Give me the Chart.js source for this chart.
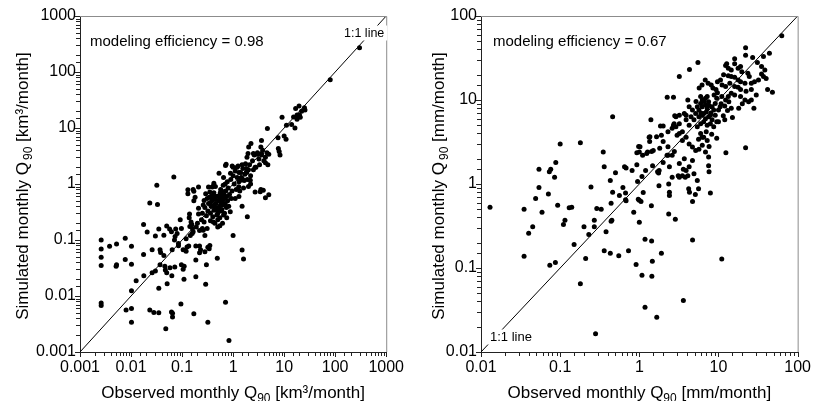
<!DOCTYPE html>
<html>
<head>
<meta charset="utf-8">
<script src="https://cdn.jsdelivr.net/npm/chart.js@4.4.1/dist/chart.umd.min.js"></script>
<style>
    body { margin: 0; background: #fff; }
    .panel { position: absolute; top: 0; }
</style>
</head>
<body>
<div class="panel" style="left:0"><canvas id="chart-km3" width="410" height="401"></canvas></div>
<div class="panel" style="left:410px"><canvas id="chart-mm" width="407" height="401"></canvas></div>
<script>
// Monthly Q90: observed vs simulated, [observed, simulated]

const ticksKm3 = ['0.001', '0.01', '0.1', '1', '10', '100', '1000'];
const ticksMm = ['0.01', '0.1', '1', '10', '100'];

const pointsKm3 = [
    [0.0026, 0.10], [0.0026, 0.069], [0.0026, 0.049], [0.0026, 0.035], [0.0026, 0.0075], [0.0026, 0.0068],
    [0.0038, 0.077], [0.0052, 0.085], [0.0051, 0.034], [0.0052, 0.036], [0.0077, 0.107], [0.0077, 0.045],
    [0.008, 0.0056], [0.0102, 0.077], [0.0102, 0.037], [0.0102, 0.0124], [0.0102, 0.006], [0.0102, 0.0034],
    [0.0126, 0.0188], [0.0178, 0.023], [0.0176, 0.19], [0.0176, 0.055], [0.0207, 0.139], [0.0233, 0.46],
    [0.0233, 0.0056], [0.0259, 0.026], [0.0259, 0.067], [0.028, 0.0051], [0.030, 0.028], [0.030, 0.118],
    [0.032, 0.95], [0.033, 0.43], [0.035, 0.157], [0.035, 0.0138], [0.035, 0.005], [0.037, 0.067],
    [0.037, 0.036], [0.038, 0.06], [0.044, 0.121], [0.044, 0.053], [0.046, 0.034], [0.047, 0.029],
    [0.048, 0.0026], [0.050, 0.178], [0.050, 0.026], [0.051, 0.0166], [0.057, 0.157], [0.058, 0.032],
    [0.062, 0.14], [0.063, 0.023], [0.062, 0.0052], [0.065, 0.0049], [0.065, 0.0042], [0.064, 0.067],
    [0.069, 1.33], [0.071, 0.10], [0.072, 0.033], [0.073, 0.115], [0.075, 0.157], [0.08, 0.13],
    [0.085, 0.087], [0.085, 0.079], [0.092, 0.23], [0.097, 0.16], [0.097, 0.036], [0.105, 0.030],
    [0.109, 0.020], [0.095, 0.0072], [0.17, 0.0048], [0.11, 0.034], [0.105, 0.067],
    [0.12, 0.105], [0.12, 0.063], [0.125, 0.075], [0.13, 0.67], [0.13, 0.79], [0.138, 0.25],
    [0.14, 0.29], [0.142, 0.175], [0.145, 0.12], [0.135, 0.078], [0.15, 0.21], [0.155, 0.19],
    [0.16, 0.16], [0.158, 0.13], [0.165, 0.14], [0.165, 0.80], [0.17, 0.50], [0.17, 0.74],
    [0.18, 0.58], [0.186, 0.078], [0.186, 0.044], [0.186, 0.022], [0.21, 0.88], [0.21, 0.37],
    [0.21, 0.29], [0.22, 0.148], [0.22, 0.078], [0.22, 0.059], [0.23, 0.067], [0.20, 0.20],
    [0.19, 0.17], [0.24, 0.23], [0.25, 0.16], [0.27, 0.51], [0.27, 0.21], [0.26, 0.15],
    [0.28, 0.12], [0.29, 0.67], [0.28, 0.062], [0.29, 0.0162], [0.30, 0.036], [0.31, 0.16],
    [0.32, 0.0034], [0.32, 0.074], [0.33, 0.45], [0.33, 0.88], [0.34, 0.58], [0.35, 0.72],
    [0.35, 0.08], [0.34, 0.07],
    [0.36, 0.30], [0.37, 0.40], [0.38, 0.50], [0.39, 0.88], [0.39, 0.40], [0.40, 0.26],
    [0.41, 0.21], [0.42, 0.34], [0.43, 0.43], [0.44, 0.53], [0.45, 0.60], [0.46, 0.45],
    [0.47, 0.35], [0.48, 0.28], [0.49, 0.047], [0.50, 0.17], [0.50, 0.30], [0.52, 0.50],
    [0.53, 0.62], [0.54, 0.40], [0.55, 0.55], [0.56, 0.70], [0.57, 0.80], [0.58, 0.45],
    [0.60, 0.35], [0.60, 0.60], [0.62, 0.50], [0.63, 0.42], [0.64, 0.95], [0.65, 0.28],
    [0.66, 0.65], [0.68, 0.55], [0.70, 0.45], [0.71, 2.15], [0.71, 0.0077], [0.72, 0.75],
    [0.74, 0.38], [0.75, 0.60], [0.77, 1.10], [0.78, 0.50], [0.80, 0.85], [0.83, 0.0016],
    [0.82, 0.40], [0.85, 0.65], [0.88, 0.32], [0.90, 1.20], [0.92, 0.55], [0.95, 0.75],
    [1.0, 0.12], [0.45, 0.90], [0.42, 0.70], [0.38, 0.62], [0.40, 0.55], [0.35, 0.45],
    [0.36, 0.22], [0.44, 0.20], [0.50, 0.23], [0.55, 0.25], [0.48, 0.60], [0.58, 0.33],
    [0.60, 0.75], [0.65, 1.30], [0.70, 1.0], [0.62, 0.20], [0.55, 0.18], [0.30, 0.27],
    [0.32, 0.33], [0.28, 0.38], [0.31, 0.55], [0.26, 0.42], [0.25, 0.30], [0.45, 0.38],
    [0.52, 0.36], [0.68, 0.30], [0.75, 0.25], [0.53, 1.55], [0.42, 1.03], [0.40, 0.90],
    [0.96, 2.1], [0.89, 1.55], [0.73, 2.25],
    [1.5, 2.2], [2.0, 1.8], [2.7, 2.0], [4.3, 2.4], [1.4, 1.17], [2.17, 1.17],
    [1.29, 0.89], [3.4, 0.73], [5.0, 0.64], [1.0, 2.0], [1.0, 1.4], [1.05, 1.0],
    [1.1, 1.7], [1.15, 0.8], [1.2, 1.3], [1.25, 2.1], [1.3, 1.1], [1.35, 0.75],
    [1.4, 1.6], [1.5, 0.40], [1.5, 0.066], [1.6, 0.046], [1.5, 1.25], [1.55, 1.9],
    [1.6, 0.85], [1.7, 1.5], [1.75, 2.3], [1.8, 1.9], [1.87, 3.0], [1.9, 0.26],
    [1.9, 1.2], [2.1, 2.2], [2.2, 1.4], [2.4, 2.6], [2.5, 1.8], [2.6, 3.3],
    [2.7, 0.72], [2.8, 2.0], [3.0, 3.6], [3.2, 2.8], [3.3, 2.2], [3.5, 0.80],
    [3.6, 3.3], [3.8, 4.0], [3.9, 0.77], [4.0, 2.6], [4.3, 3.0], [4.3, 0.57],
    [4.6, 3.6], [4.8, 2.2], [5.0, 3.4], [1.2, 2.0], [1.3, 1.6], [1.45, 1.3],
    [1.65, 1.15], [1.85, 1.6], [2.2, 1.0], [2.0, 0.9], [1.1, 0.55], [1.3, 0.6],
    [19.6, 24.6], [16.8, 22.4], [17.9, 17.1], [15.3, 15.8], [20.7, 15.5], [17.9, 14.3],
    [25.6, 21], [25, 23], [16.3, 10], [9.1, 15.5], [4.7, 9.8], [11.1, 11.2],
    [7.6, 6.7], [10, 7.2], [10.9, 6.3], [3.6, 6.0], [3.5, 4.6], [2.24, 5.3],
    [2.02, 4.6], [1.96, 3.5], [2.5, 3.5], [3.0, 3.4], [3.6, 3.5], [7.7, 4.3],
    [8.0, 3.8], [8.3, 3.3], [80, 73], [300, 270], [14, 11.5], [20, 17], [22, 20]
];

const pointsMm = [
    [0.013, 0.53], [0.035, 0.50], [0.035, 0.138], [0.04, 0.26], [0.045, 0.31], [0.049, 0.67],
    [0.054, 1.5], [0.054, 0.91], [0.059, 0.46], [0.071, 0.76], [0.073, 1.4], [0.076, 1.5],
    [0.074, 0.108], [0.085, 1.2], [0.087, 0.116], [0.088, 1.8], [0.093, 0.56], [0.10, 3.0],
    [0.11, 0.33], [0.115, 0.37], [0.13, 0.52], [0.14, 0.53], [0.15, 0.19], [0.18, 3.1],
    [0.18, 0.065], [0.20, 0.31], [0.21, 0.13], [0.23, 0.25], [0.245, 0.92], [0.27, 0.37],
    [0.27, 0.31], [0.29, 0.51], [0.28, 0.0165], [0.33, 0.50], [0.35, 2.4], [0.36, 1.6],
    [0.36, 0.16], [0.38, 0.27], [0.43, 1.1], [0.44, 0.59], [0.44, 0.36], [0.45, 0.37],
    [0.43, 0.15], [0.46, 6.3], [0.46, 0.80], [0.50, 1.36], [0.55, 0.14], [0.56, 0.73],
    [0.62, 0.91], [0.65, 1.6], [0.68, 1.55], [0.67, 0.78], [0.67, 0.65], [0.68, 0.63],
    [0.73, 0.16], [0.81, 1.45], [0.85, 0.46], [0.91, 0.11], [0.93, 1.7], [0.93, 2.35],
    [0.95, 1.07], [0.97, 0.66], [1.0, 0.35], [1.0, 0.64], [1.05, 0.62], [0.98, 2.8],
    [1.0, 2.4], [1.08, 0.082], [1.08, 1.23], [1.1, 2.2], [1.12, 0.79], [1.18, 0.034],
    [1.18, 0.22], [1.2, 1.45], [1.27, 2.4], [1.33, 3.6], [1.35, 3.2], [1.4, 5.8],
    [1.42, 0.55], [1.43, 0.21], [1.44, 0.08], [1.46, 0.12], [1.47, 1.65], [1.5, 2.5],
    [1.66, 0.026], [1.7, 1.4], [1.75, 1.35], [1.78, 1.45], [1.77, 0.95], [1.85, 4.9],
    [1.9, 0.15], [2.0, 4.9], [2.0, 3.2], [2.0, 1.8], [2.25, 10.8], [2.7, 10.8],
    [2.3, 2.2], [2.35, 1.0], [2.4, 0.80], [2.4, 0.73], [2.35, 0.44], [2.6, 1.2],
    [2.6, 2.2], [2.7, 5.0], [2.75, 5.2], [2.8, 6.5], [2.85, 0.38], [3.0, 3.8],
    [3.2, 19], [3.1, 1.25], [3.2, 1.2], [3.5, 1.25], [3.6, 1.5], [3.8, 1.2],
    [4.1, 1.25], [4.2, 0.88], [4.3, 0.80], [3.6, 0.041], [3.7, 2.0], [4.3, 23],
    [4.7, 0.215], [4.7, 0.62], [5.1, 0.75], [5.6, 0.88], [5.5, 28], [7.5, 1.65],
    [7.6, 1.4], [7.9, 0.78], [11, 0.128], [12.4, 2.35], [22, 2.7], [48, 12.4],
    [63, 58], [44, 36], [37, 33], [31, 28], [27, 32], [22, 42], [22, 34],
    [1.36, 3.66], [1.65, 3.66], [1.9, 3.8], [2.3, 4.2], [2.6, 4.6], [2.9, 4.8],
    [1.02, 2.78], [1.24, 2.3], [1.43, 2.43], [1.81, 2.66], [2.3, 2.78], [2.24, 2.2], [2.77, 2.43],
    [16, 31], [16, 27], [12.7, 27], [12.3, 25.7], [13.3, 23.8], [14.5, 22.7],
    [17.7, 23.8], [19, 25], [19.7, 21.7], [23.5, 20.8], [24.5, 19], [26, 15.8],
    [28.5, 16.5], [21.6, 15.8], [19, 16.5], [17.7, 17.3], [16, 18.6], [14.5, 19],
    [13.3, 19.5], [11.6, 20], [10.6, 17.3], [9.7, 16.5], [11.1, 15.1], [12.3, 14.5],
    [13.9, 15.8], [16, 14.5], [17.7, 14.2], [19, 13.3], [22.3, 12.7], [26, 13.3],
    [32, 17.3], [35, 20.4], [37, 19], [38.5, 22.7], [35, 25], [40, 18],
    [41.7, 13.3], [30, 11.5], [26, 10], [21.6, 10], [19, 11], [16, 11.5],
    [14.5, 12], [13.3, 11], [12.3, 10], [11, 11], [9.7, 12.2], [9.3, 13.3],
    [8.5, 13.9], [8.1, 15.1], [7.4, 15.8], [6.8, 17.3], [6.2, 15.1], [5.7, 13.9],
    [5.4, 8.3], [5.66, 7.6], [5.95, 9.1], [6.24, 8.3], [6.5, 6.9], [6.85, 8.8],
    [7.2, 7.9], [7.5, 9.5], [7.9, 6.6], [8.3, 8.3], [8.7, 7.6], [9.1, 9.1],
    [5.66, 6.3], [6.24, 6.6], [6.85, 6.0], [7.5, 6.3], [8.3, 5.8], [9.1, 6.6],
    [5.95, 5.2], [6.5, 5.5], [7.2, 5.0], [7.9, 5.2], [8.7, 4.8], [9.5, 5.5],
    [10, 7.6], [10.5, 8.3], [6.24, 10], [6.85, 10.5], [7.2, 11], [5.95, 11],
    [5.15, 6.9], [4.9, 5.8], [5.4, 4.8], [4.69, 7.6], [4.5, 6.3], [4.26, 8.3],
    [3.9, 6.6], [4.1, 10], [7.0, 7.2], [6.0, 7.0], [8.0, 7.0], [7.6, 8.6],
    [6.6, 9.6], [5.2, 9.6], [9.5, 10.5], [8.8, 11.5], [10.8, 9.0], [12, 8.5],
    [11.5, 6.5], [13, 7.5], [14.5, 8], [13.5, 9.5], [15, 6.2], [18, 8],
    [20, 9], [24, 9.5], [28, 8], [12, 5.8], [10, 5.5], [6.2, 3.6],
    [5.6, 3.4], [7.0, 4.2], [8.2, 3.9], [9.5, 3.5], [7.6, 2.8],
    [3.2, 4.0], [3.5, 3.3], [3.9, 3.6], [4.26, 3.0], [4.69, 2.75], [5.15, 2.5],
    [5.66, 2.6], [6.24, 2.9], [6.85, 2.4], [7.5, 2.1], [7.2, 3.3], [6.5, 3.6],
    [5.95, 4.0], [2.9, 6.3], [3.2, 6.6], [3.7, 6.9], [3.9, 5.8], [4.26, 5.0],
    [3.2, 5.2], [3.5, 4.2], [4.69, 1.9], [4.9, 1.32], [4.26, 1.6], [5.4, 1.1],
    [3.9, 1.45], [3.2, 1.75], [2.4, 1.6]
];

const FONT = '"Liberation Sans", Arial, Helvetica, sans-serif';

function isDecade(v) {
    const l = Math.log10(v);
    return Math.abs(l - Math.round(l)) < 1e-6;
}

// axis titles with the "90" subscript, frame, tick marks and the in-plot notes
const panelPlugin = {
    id: 'panel',
    afterDraw(chart, args, o) {
        const ctx = chart.ctx;
        const a = chart.chartArea;
        const xs = chart.scales.x;
        const ys = chart.scales.y;
        ctx.save();

        ctx.strokeStyle = '#8c8c8c';
        ctx.lineWidth = 1;
        ctx.beginPath();
        ctx.moveTo(a.left, a.top + 0.5);
        ctx.lineTo(a.right + 0.5, a.top + 0.5);
        ctx.lineTo(a.right + 0.5, a.bottom);
        ctx.stroke();

        ctx.strokeStyle = '#222';
        ctx.beginPath();
        xs.ticks.forEach(t => {
            const px = Math.round(xs.getPixelForValue(t.value)) + 0.5;
            ctx.moveTo(px, a.bottom);
            ctx.lineTo(px, a.bottom + (isDecade(t.value) ? 5 : 4));
        });
        ys.ticks.forEach(t => {
            const py = Math.round(ys.getPixelForValue(t.value)) + 0.5;
            ctx.moveTo(a.left, py);
            ctx.lineTo(a.left - (isDecade(t.value) ? 5 : 4), py);
        });
        ctx.stroke();

        ctx.fillStyle = '#000';
        ctx.textAlign = 'left';
        ctx.textBaseline = 'alphabetic';
        ctx.font = '15px ' + FONT;
        ctx.fillText(o.efficiency, o.effX, o.effY);

        ctx.font = o.lineSize + 'px ' + FONT;
        const lw = ctx.measureText('1:1 line').width;
        ctx.fillStyle = '#fff';
        ctx.fillRect(o.lineX - 3, o.lineY - 11, lw + 6, 15);
        ctx.fillStyle = '#000';
        ctx.fillText('1:1 line', o.lineX, o.lineY);

        drawTitle(ctx, o.xTitle, (a.left + a.right) / 2, 397.5, false, 0);
        drawTitle(ctx, o.yTitle, o.yTitleX, (a.top + a.bottom) / 2 + 2, true, 2);
        ctx.restore();
    }
};

function drawTitle(ctx, parts, cx, cy, vertical, gap) {
    const big = '17px ' + FONT;
    const small = '12px ' + FONT;
    ctx.save();
    ctx.translate(cx, cy);
    if (vertical) ctx.rotate(-Math.PI / 2);
    ctx.fillStyle = '#000';
    ctx.font = big;
    const w0 = ctx.measureText(parts[0]).width;
    const w2 = ctx.measureText(parts[2]).width;
    ctx.font = small;
    const w1 = ctx.measureText(parts[1]).width;
    let x = -(w0 + gap + w1 + w2) / 2;
    ctx.font = big;
    ctx.fillText(parts[0], x, 0);
    x += w0 + gap;
    ctx.font = small;
    ctx.fillText(parts[1], x, 4);
    x += w1;
    ctx.font = big;
    ctx.fillText(parts[2], x, 0);
    ctx.restore();
}

function logAxis(min, max, labels, fit) {
    const minExp = Math.round(Math.log10(min));
    return {
        type: 'logarithmic',
        min: min,
        max: max,
        grid: { display: false, drawTicks: false },
        border: { display: true, color: '#222', width: 1 },
        title: { display: false },
        ticks: {
            autoSkip: false,
            maxRotation: 0,
            padding: fit.pad,
            color: '#000',
            font: { family: FONT, size: 16 },
            callback: v => isDecade(v) ? labels[Math.round(Math.log10(v)) - minExp] : ''
        },
        afterFit: s => {
            if (fit.height) s.height = fit.height;
            if (fit.width) s.width = fit.width;
        }
    };
}

function makeScatter(id, points, range, labels, cfg) {
    const ctx = document.getElementById(id).getContext('2d');
    return new Chart(ctx, {
        type: 'scatter',
        data: {
            datasets: [
                {
                    data: points.map(p => ({ x: p[0], y: p[1] })),
                    backgroundColor: '#000',
                    borderWidth: 0,
                    pointRadius: 2.5
                },
                {
                    type: 'line',
                    data: [{ x: range[0], y: range[0] }, { x: range[1], y: range[1] }],
                    borderColor: '#000',
                    borderWidth: 1,
                    pointRadius: 0
                }
            ]
        },
        options: {
            responsive: false,
            animation: false,
            devicePixelRatio: 1,
            layout: { padding: { top: 16, right: cfg.right, left: 0, bottom: 0 } },
            plugins: {
                legend: { display: false },
                tooltip: { enabled: false },
                panel: cfg.panel
            },
            scales: {
                x: logAxis(range[0], range[1], labels, { height: 49, pad: 6 }),
                y: logAxis(range[0], range[1], labels, { width: cfg.yWidth, pad: 4 })
            }
        },
        plugins: [panelPlugin]
    });
}

makeScatter('chart-km3', pointsKm3, [0.001, 1000], ticksKm3, {
    right: 21,
    yWidth: 80,
    panel: {
        efficiency: 'modeling efficiency = 0.98', effX: 90, effY: 45.5,
        lineX: 344, lineY: 36.5, lineSize: 12.5,
        xTitle: ['Observed monthly Q', '90', ' [km\u00b3/month]'],
        yTitle: ['Simulated monthly Q', '90', ' [km\u00b3/month]'],
        yTitleX: 27.5
    }
});

makeScatter('chart-mm', pointsMm, [0.01, 100], ticksMm, {
    right: 13,
    yWidth: 71,
    panel: {
        efficiency: 'modeling efficiency = 0.67', effX: 83, effY: 45.5,
        lineX: 80, lineY: 340.5, lineSize: 13,
        xTitle: ['Observed monthly Q', '90', ' [mm/month]'],
        yTitle: ['Simulated monthly Q', '90', ' [mm/month]'],
        yTitleX: 34
    }
});
</script>
</body>
</html>
